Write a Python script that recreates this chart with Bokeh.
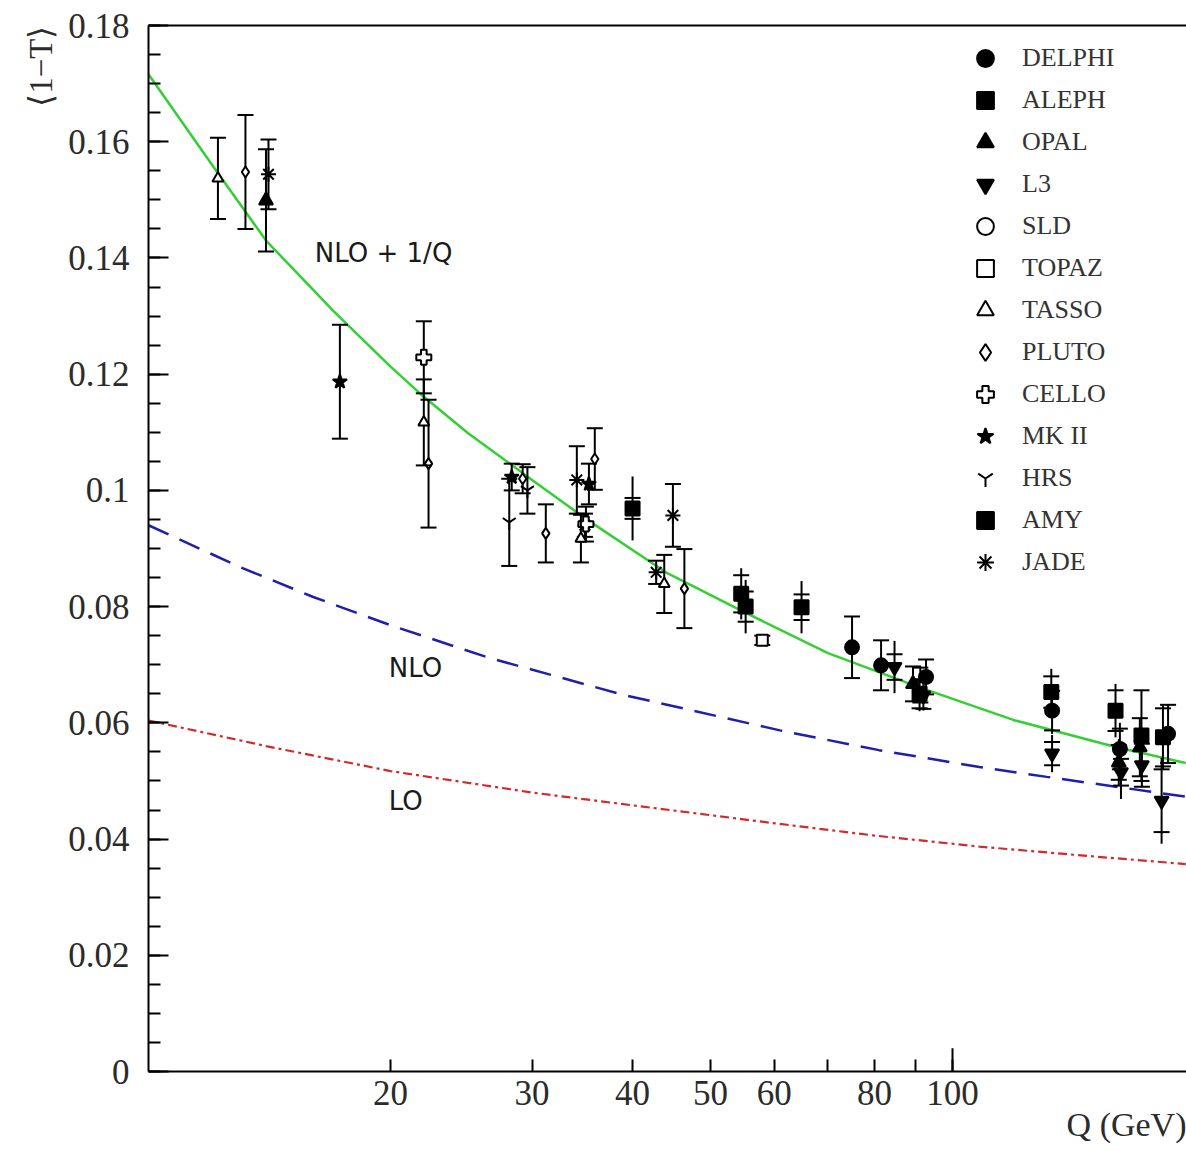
import math
from bokeh.plotting import figure
from bokeh.models import (ColumnDataSource, FixedTicker, LogAxis, Legend,
                          LegendItem, Range1d, Title)
from bokeh.embed import file_html
from bokeh.resources import INLINE
from bokeh.core.properties import value

# ---------------- theory curves ----------------
nlo1q_q = [10, 12, 14, 17, 20, 22, 25, 30, 35, 44, 55, 70, 91, 119, 160, 195]
nlo1q_v = [0.1716, 0.1560, 0.1430, 0.1308, 0.1213, 0.1161, 0.1098, 0.1018,
           0.0951, 0.0859, 0.0791, 0.0720, 0.0661, 0.0605, 0.0558, 0.0531]

nlo_q = [10, 13, 16, 20, 26.5, 39, 61, 81, 108, 131, 195]
nlo_v = [0.0940, 0.0868, 0.0817, 0.0768, 0.0712, 0.0648, 0.0587, 0.0553,
         0.0524, 0.0507, 0.0473]

lo_q = [10, 14, 20, 30, 40, 61, 80, 108, 150, 195]
lo_v = [0.0604, 0.0560, 0.0517, 0.0480, 0.0458, 0.0426, 0.0406, 0.0387,
        0.0370, 0.0357]

# ---------------- measurements: Q, <1-T>, total error, inner (cap) error ----------------
delphi_q = [75.0, 81.5, 92.7, 133.0, 161.5, 185.4]
delphi_v = [0.0730, 0.0699, 0.0679, 0.0621, 0.0555, 0.0581]
delphi_e = [0.0053, 0.0043, 0.0030, 0.0040, 0.0045, 0.0050]
delphi_c = [0.0053, 0.0043, 0.0030, 0.0034, 0.0035, 0.0050]

aleph_q = [91.0, 132.7, 159.5, 171.8, 182.7]
aleph_v = [0.0650, 0.0653, 0.0621, 0.0578, 0.0575]
aleph_e = [0.0030, 0.0040, 0.0046, 0.0078, 0.0055]
aleph_c = [0.0025, 0.0027, 0.0035, 0.0078, 0.0050]

opal_q = [14.0, 89.3, 161.0, 171.0]
opal_v = [0.1499, 0.0667, 0.0532, 0.0558]
opal_e = [0.0088, 0.0030, 0.0040, 0.0050]
opal_c = [0.0088, 0.0030, 0.0030, 0.0050]

l3_q = [84.7, 92.0, 133.0, 162.0, 172.0, 182.0]
l3_v = [0.0696, 0.0647, 0.0547, 0.0515, 0.0527, 0.0466]
l3_e = [0.0045, 0.0026, 0.0032, 0.0046, 0.0037, 0.0074]
l3_c = [0.0022, 0.0023, 0.0020, 0.0023, 0.0037, 0.0054]

sld_q = [91.2]
sld_v = [0.0665]
sld_e = [0.0030]
sld_c = [0.0030]

topaz_q = [58.0]
topaz_v = [0.0742]
topaz_e = [0.0008]
topaz_c = [0.0008]

tasso_q = [12.2, 22.0, 34.5, 43.8]
tasso_v = [0.1537, 0.1117, 0.0917, 0.0839]
tasso_e = [0.0070, 0.0074, 0.0041, 0.0050]
tasso_c = [0.0070, 0.0074, 0.0041, 0.0050]

pluto_q = [13.2, 22.3, 29.2, 31.2, 35.9, 46.4]
pluto_v = [0.1548, 0.1046, 0.1020, 0.0926, 0.1054, 0.0831]
pluto_e = [0.0098, 0.0110, 0.0025, 0.0050, 0.0053, 0.0068]
pluto_c = [0.0098, 0.0110, 0.0025, 0.0050, 0.0053, 0.0068]

cello_q = [22.0, 35.0]
cello_v = [0.1229, 0.0942]
cello_e = [0.0062, 0.0030]
cello_c = [0.0062, 0.0030]

mk2_q = [17.3, 28.3, 35.3]
mk2_v = [0.1187, 0.1023, 0.1011]
mk2_e = [0.0098, 0.0023, 0.0035]
mk2_c = [0.0098, 0.0023, 0.0035]

hrs_q = [28.1, 29.6]
hrs_v = [0.0945, 0.1000]
hrs_e = [0.0075, 0.0040]
hrs_c = [0.0075, 0.0040]

amy_q = [40.0, 54.6, 55.3, 64.9]
amy_v = [0.0969, 0.0822, 0.0800, 0.0799]
amy_e = [0.0055, 0.0044, 0.0046, 0.0045]
amy_c = [0.0018, 0.0032, 0.0026, 0.0022]

jade_q = [14.1, 34.1, 34.9, 42.8, 44.9]
jade_v = [0.1544, 0.1018, 0.0940, 0.0859, 0.0957]
jade_e = [0.0060, 0.0058, 0.0020, 0.0020, 0.0054]
jade_c = [0.0060, 0.0058, 0.0020, 0.0020, 0.0054]

experiments = [
    ("DELPHI", delphi_q, delphi_v, delphi_e, delphi_c, "circle", True),
    ("ALEPH", aleph_q, aleph_v, aleph_e, aleph_c, "square", True),
    ("OPAL", opal_q, opal_v, opal_e, opal_c, "triangle", True),
    ("L3", l3_q, l3_v, l3_e, l3_c, "inverted_triangle", True),
    ("SLD", sld_q, sld_v, sld_e, sld_c, "circle", False),
    ("TOPAZ", topaz_q, topaz_v, topaz_e, topaz_c, "square", False),
    ("TASSO", tasso_q, tasso_v, tasso_e, tasso_c, "triangle", False),
    ("PLUTO", pluto_q, pluto_v, pluto_e, pluto_c, "diamond", False),
    ("CELLO", cello_q, cello_v, cello_e, cello_c, "plus", False),
    ("MK II", mk2_q, mk2_v, mk2_e, mk2_c, "star", True),
    ("HRS", hrs_q, hrs_v, hrs_e, hrs_c, "y", True),
    ("AMY", amy_q, amy_v, amy_e, amy_c, "square", True),
    ("JADE", jade_q, jade_v, jade_e, jade_c, "asterisk", True),
]

ytick_vals = [0, 0.02, 0.04, 0.06, 0.08, 0.1, 0.12, 0.14, 0.16, 0.18]
ytick_labels = ["0", "0.02", "0.04", "0.06", "0.08", "0.1", "0.12", "0.14", "0.16", "0.18"]
xtick_vals = [20, 30, 40, 50, 60, 70, 80, 90, 100]
xtick_labels = ["20", "30", "40", "50", "60", "", "80", "", "100"]

curve_labels = ["NLO + 1/Q", "NLO", "LO"]
curve_label_q = [16.1, 19.9, 19.9]
curve_label_v = [0.1409, 0.0694, 0.0466]

# ---------------- figure ----------------
FRAME_LEFT, FRAME_TOP, FRAME_BOTTOM_PAD = 148, 25, 80
W, H = 1186, 1151
decades = (W - FRAME_LEFT) / 804.0
x_end = 10 ** (1 + decades)

p = figure(width=W, height=H, x_axis_type="log",
           x_range=Range1d(10, x_end), y_range=Range1d(0, 0.18),
           output_backend="svg", toolbar_location=None,
           min_border_left=FRAME_LEFT, min_border_right=0,
           min_border_top=FRAME_TOP, min_border_bottom=FRAME_BOTTOM_PAD)
p.grid.visible = False
p.outline_line_color = None
p.background_fill_color = "white"
p.border_fill_color = "white"

tick_font = "Liberation Serif"
tick_color = "#2b2b2b"

xax = p.xaxis[0]
yax = p.yaxis[0]
for ax in (xax, yax):
    ax.axis_line_width = 2
    ax.axis_line_color = "black"
    ax.major_tick_line_width = 2
    ax.minor_tick_line_width = 2
    ax.major_tick_out = 0
    ax.minor_tick_out = 0
    ax.major_label_text_font = tick_font
    ax.major_label_text_font_size = "35px"
    ax.major_label_text_color = tick_color

yax.ticker = FixedTicker(ticks=ytick_vals,
                         minor_ticks=[round(i * 0.005, 3) for i in range(37)])
yax.major_tick_in = 20
yax.minor_tick_in = 12
yax.major_label_standoff = 19
yax.major_label_overrides = dict(zip(ytick_vals, ytick_labels))

xax.ticker = FixedTicker(ticks=xtick_vals, minor_ticks=[])
xax.major_tick_in = 12
xax.minor_tick_in = 0
xax.major_label_standoff = 9
xax.major_label_overrides = dict(zip(xtick_vals, xtick_labels))

top = LogAxis(ticker=FixedTicker(ticks=[], minor_ticks=[]), axis_line_width=2,
              major_tick_in=0, major_tick_out=0, minor_tick_in=0, minor_tick_out=0,
              major_label_text_font_size="0px")
p.add_layout(top, "above")

# axis titles as side titles (right / top aligned)
p.add_layout(Title(text="Q (GeV)", align="right", standoff=-8,
                   text_font=tick_font, text_font_size="34px",
                   text_font_style="normal", text_color=tick_color), "below")
p.add_layout(Title(text="\u27e81\u2212T\u27e9", align="right", standoff=14,
                   text_font=tick_font, text_font_size="33px",
                   text_font_style="normal", text_color=tick_color), "left")

# longer tick at 100 GeV
p.segment(x0=[xtick_vals[-1]], y0=[0], x1=[xtick_vals[-1]], y1=[0.004],
          line_color="black", line_width=2)

# ---------------- curves ----------------
p.line(nlo1q_q, nlo1q_v, line_color="#35cf35", line_width=2.5)
p.line(nlo_q, nlo_v, line_color="#1f1faa", line_width=2.5, line_dash="22 12")
p.line(lo_q, lo_v, line_color="#d22a2a", line_width=2.2, line_dash="9 4 3 4")

p.text(x=curve_label_q, y=curve_label_v, text=curve_labels,
       text_font=value("DejaVu Sans"), text_font_size="26px",
       text_color="#1a1a1a", text_align="left", text_baseline="middle")

# ---------------- data points ----------------
CAP = 10 ** (8 / 804.0)  # cap half-width: 8 px in log space
renderers = {}
for name, q, v, e, c, marker, filled in reversed(experiments):
    src = ColumnDataSource(dict(
        q=q, v=v,
        lo=[a - b for a, b in zip(v, e)], hi=[a + b for a, b in zip(v, e)],
        clo=[a - b for a, b in zip(v, c)], chi=[a + b for a, b in zip(v, c)],
        ql=[a / CAP for a in q], qr=[a * CAP for a in q]))
    p.segment(x0="q", y0="lo", x1="q", y1="hi", source=src,
              line_color="black", line_width=2)
    p.segment(x0="ql", y0="chi", x1="qr", y1="chi", source=src,
              line_color="black", line_width=2)
    p.segment(x0="ql", y0="clo", x1="qr", y1="clo", source=src,
              line_color="black", line_width=2)
    if marker in ("star", "asterisk", "y", "plus"):
        size = 15
    elif filled:
        size = 14
    else:
        size = 11
    r = p.scatter(x="q", y="v", source=src, marker=marker, size=size,
                  fill_color="black" if filled else "white",
                  line_color="black", line_width=2)
    renderers[name] = r

items = [LegendItem(label=exp[0], renderers=[renderers[exp[0]]]) for exp in experiments]
legend = Legend(items=items, location=(816, 488), orientation="vertical",
                glyph_width=42, glyph_height=42, spacing=0, padding=0, margin=0,
                label_standoff=16, label_text_font="Liberation Serif",
                label_text_font_size="26px", label_text_color="#333333",
                border_line_color=None, background_fill_alpha=0)
p.add_layout(legend)

open("out.html", "w").write(file_html(p, INLINE))
